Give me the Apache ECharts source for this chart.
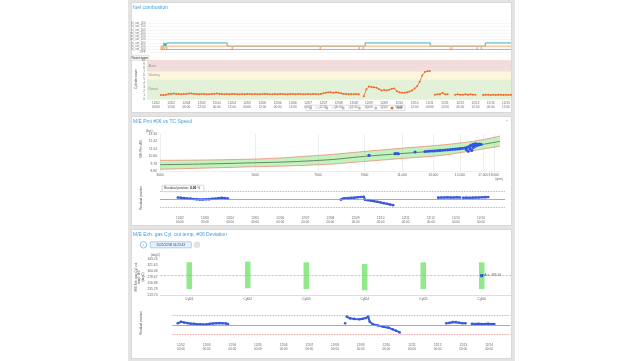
<!DOCTYPE html>
<html><head><meta charset="utf-8">
<script src="https://cdn.jsdelivr.net/npm/echarts@6/dist/echarts.min.js"></script>
<style>
html,body{margin:0;padding:0;background:#fff;width:643px;height:361px;overflow:hidden}
.bg{position:absolute;left:128px;top:0;width:387px;height:361px;background:#e4e4e4}
.pn{position:absolute;left:131px;width:381px;background:#fff;box-sizing:border-box;border:1px solid #d9d9d9}
#chart{position:absolute;left:0;top:0;width:643px;height:361px}
</style></head><body>
<div class="bg"></div>
<div class="pn" style="top:2px;height:111px"></div>
<div class="pn" style="top:116px;height:110px"></div>
<div class="pn" style="top:229px;height:130px"></div>
<div id="chart"></div>
<script>
// ---------- DATA ----------
// Panel 1 : fuel combustion timeline (hours since 12/02 00:00)
const rowLabels = ['OFF','lo_set_100','lo_set_150','lo_set_200','mi_set_100','mi_set_150','mi_set_200','hi_set_100','hi_set_150','hi_set_200'];
const tealSteps = [[4,2],[6.3,2],[6.3,3],[7.0,3],[7.0,2],[7.4,2],[7.4,3],[7.9,3],[7.9,2],[8.7,2],[8.7,3],[56.2,3],[56.2,2],[165,2],[165,3],[216.3,3],[216.3,2],[259.7,2],[259.7,3],[280,3]];
const orangeSteps = [[4,2],[4,1],[4.6,1],[4.6,2],[5.2,2],[5.2,1],[5.8,1],[5.8,2],[6.6,2],[6.6,1],[7.6,1],[7.6,2],[8.7,2],[8.7,1],[8.7,2],[60,2],[60,1],[61.5,1],[61.5,2],[129.5,2],[129.5,1],[130.3,1],[130.3,2],[160.3,2],[160.3,1],[160.3,2],[163.4,2],[163.4,1],[164.2,1],[164.2,2],[232,2],[232,1],[233.7,1],[233.7,2],[253.4,2],[253.4,1],[253.4,2],[256.6,2],[256.6,1],[256.6,2],[280,2]];
const blueSteps = [[4,1],[280,1]];

// Panel 1 : cylinder index (#06), one value every 2 h starting at hour 4
const cylStartHour = 4, cylStepHour = 2;
const cyl06 = [
  1.0,1.0,1.1,
  1.3,1.3,1.4,1.3,1.3,1.2,1.3,1.3,1.4,1.4,1.3,1.3,1.2,1.3,1.3,1.2,1.2,1.3,1.3,1.4,1.3,1.3,1.2,1.3,
  1.2,1.3,1.3,1.2,1.2,1.3,1.2,1.3,1.3,1.2,
  1.3,1.2,1.2,1.3,1.3,1.3,1.2,1.2,1.3,1.2,
  1.3,1.3,1.2,1.2,1.3,1.3,1.2,1.3,1.3,1.2,
  1.2,1.3,1.2,1.3,1.3,1.2,1.3,
  1.5,1.6,1.7,1.7,1.6,1.7,1.6,1.5,
  1.3,1.3,1.2,1.3,1.2,1.3,1.2,
  null,
  0.7,2.5,3.2,
  3.1,3.0,2.9,2.5,2.2,2.3,2.2,2.4,2.6,2.7,2.0,1.7,1.6,1.6,1.7,1.9,2.2,2.7,3.3,4.4,6.0,6.9,7.1,7.2,
  null,
  1.1,1.2,1.2,1.6,1.2,1.2,
  null,null,
  1.1,1.2,1.1,1.1,1.2,1.1,1.2,1.1,1.1,
  null,null,
  1.0,1.1,1.1,1.0,1.1,1.0,1.1,1.1,1.0,1.1,1.0,1.1
];
const bandNames = ['Alarm','Warning','Normal'];
const bandFrom = [7,5,0];
const bandTo = [10,7,5];
const cylLegend = ['#01','#02','#03','#04','#05','#06'];
const p1TickHours = [0,12,24,36,48,60,72,84,96,108,120,132,144,156,168,180,192,204,216,228,240,252,264,276];
const p1TickLabels = ['12/02\n00:00','12/02\n12:00','12/03\n00:00','12/03\n12:00','12/04\n00:00','12/04\n12:00','12/05\n00:00','12/05\n12:00','12/06\n00:00','12/06\n12:00','12/07\n00:00','12/07\n12:00','12/08\n00:00','12/08\n12:00','12/09\n00:00','12/09\n12:00','12/10\n00:00','12/10\n12:00','12/11\n00:00','12/11\n12:00','12/12\n00:00','12/12\n12:00','12/13\n00:00','12/13\n12:00'];

// Panel 2 : Pmi vs TC speed
const pmiTicks = [3000,5000,7000,9000,11000,13000,15000,17000,18000];
const pmiYTicks = [8.90,9.78,10.66,11.54,12.42,13.30];
const pmiRpm    = [3000,4730,7080,9060,11120,13340,15010,16810,18600];
const pmiUpper  = [10.17,10.29,10.77,11.24,11.63,11.96,12.23,12.59,13.06];
const pmiCenter = [9.65,9.85,10.17,10.65,11.00,11.31,11.63,12.03,12.43];
const pmiLower  = [9.10,9.38,9.65,10.05,10.41,10.72,11.08,11.48,11.84];
const pmiPoints = [[9211,10.77],[10591,10.96],[10705,10.98],[10780,10.95],[11792,11.16],
  [12441,11.22],[12610,11.25],[12779,11.27],[12950,11.28],[13127,11.30],[13305,11.32],[13485,11.35],[13667,11.37],[13852,11.40],[14040,11.42],
  [14230,11.45],[14420,11.48],[14617,11.50],[14815,11.53],[15015,11.56],[15218,11.60],[15424,11.63],[15530,11.45],[15600,11.70],[15680,11.25],
  [15760,11.80],[15844,11.55],[15900,11.95],[15980,11.35],[16060,12.05],[16120,11.70],[16200,12.10],[16276,11.85],[16350,12.12],[16430,11.95],
  [16500,12.08],[16580,12.00],[16650,12.10],[16720,12.05],[16810,12.08]];

// Residual charts (hours since 12/02 00:00, %)
const resTickHours = [0,24,48,72,96,120,144,168,192,216,240,264,288];
const resTickLabels = ['12/02\n00:00','12/03\n00:00','12/04\n00:00','12/05\n00:00','12/06\n00:00','12/07\n00:00','12/08\n00:00','12/09\n00:00','12/10\n00:00','12/11\n00:00','12/12\n00:00','12/13\n00:00','12/14\n00:00'];
const resLimits = [5,-5];
const res2 = [[-2,1.0],[1,0.8],[4,0.6],[7,0.4],[10,0.3],[13,0.1],[16,0.0],[19,-0.2],[22,-0.2],[25,-0.1],[28,0.0],[31,0.2],[34,0.3],[37,0.6],[40,0.8],[43,0.6],[46,0.4],[48,null],
  [154,-0.3],[156,0.3],[158,0.5],[161,0.6],[164,0.8],[167,0.9],[170,1.1],[173,1.3],[176,1.4],[177,-0.4],[180,-0.6],[183,-0.9],[186,-1.3],[189,-1.6],[192,-2.0],[195,-2.4],[198,-2.8],[201,-3.2],[204,-3.6],[206,null],
  [247,0.9],[250,1.0],[253,1.0],[256,1.1],[259,1.0],[262,1.0],[265,1.1],[268,1.0],[270,null],
  [271,0.8],[274,0.9],[277,0.8],[280,0.9],[283,1.0],[286,1.0],[289,1.1],[292,1.2],[295,1.3]];
const res3 = [[-3,0.9],[0,1.7],[3,1.3],[6,1.0],[9,0.7],[12,0.6],[15,0.4],[18,0.4],[21,0.3],[24,0.4],[27,0.6],[30,0.8],[33,0.9],[36,1.0],[39,0.9],[42,0.8],[44,0.5],[46,null],
  [153.5,0.9],[154,null],
  [155,4.4],[158,3.5],[162,3.2],[167,3.0],[170,3.3],[173,3.7],[175,4.4],[176.5,1.7],[179.5,0.4],[184,-0.2],[189,-0.9],[194,-1.4],[198,-2.3],[201,-3.0],[204.5,-3.9],[206,null],
  [248,0.9],[251,1.1],[254,1.5],[257,1.5],[260,1.2],[263,0.9],[266,0.9],[269,null],
  [272,0.6],[275,0.5],[278,0.6],[281,0.5],[284,0.5],[287,0.6],[290,0.5],[293,0.5]];

// Panel 3 : exhaust gas temperature
const cylCats = ['Cyl01','Cyl02','Cyl03','Cyl04','Cyl05','Cyl06'];
const exhLow  = [236.0,238.5,236.0,231.4,236.0,236.0];
const exhHigh = [330.5,332.6,330.5,324.5,330.5,330.5];
const exhAct = 283.43;
const exhYTicks = [213.70,235.29,256.88,278.47,300.06,321.65,343.24];

// ---------- STYLE ----------
const FONT = "'Liberation Sans', 'DejaVu Sans', Arial, sans-serif";
const LBL = {fontSize:3.3, color:'#666', fontFamily:FONT};
const TITLE = '#3c9fe6';

function text(x,y,t,size,color,extra){
  return {type:'text', x:x, y:y, silent:true,
    style:Object.assign({text:t, fontSize:size, fontFamily:FONT, fill:color, align:'left', verticalAlign:'middle'}, extra||{})};
}
function vtext(x,y,t,size){
  return {type:'text', x:x, y:y, rotation:Math.PI/2, silent:true,
    style:{text:t, fontSize:size, fontFamily:FONT, fill:'#555', align:'center', verticalAlign:'middle', lineHeight:size*1.15}};
}
const p1Fmt = v => { const i = p1TickHours.indexOf(v); return i >= 0 ? p1TickLabels[i] : ''; };
const resFmt = v => { const i = resTickHours.indexOf(v); return i >= 0 ? resTickLabels[i] : ''; };
const thousands = v => v >= 10000 ? String(v).replace(/\B(?=(\d{3})+(?!\d))/g, ',') : String(v);

const resMarks = {
  silent:true, symbol:['none','none'], label:{show:false},
  data:[
    {yAxis:resLimits[0], lineStyle:{color:'#f07c7c', type:'dotted', width:0.8}},
    {yAxis:resLimits[1], lineStyle:{color:'#f07c7c', type:'dotted', width:0.8}},
    {yAxis:0, lineStyle:{color:'#999', type:'solid', width:0.8}}
  ]
};

const chart = echarts.init(document.getElementById('chart'), null, {renderer:'canvas'});
const option = {
  animation:false,
  backgroundColor:'transparent',
  textStyle:{fontFamily:FONT},
  legend:{
    data:cylLegend, left:306, top:105.2, orient:'horizontal',
    icon:'circle', itemWidth:3, itemHeight:3, itemGap:5,
    borderColor:'#bbb', borderWidth:0.5, padding:[1.2,3],
    textStyle:{fontSize:3.2, color:'#333', fontFamily:FONT, padding:[0,0,0,-2]},
    inactiveColor:'#bbb',
    selected:{'#01':false,'#02':false,'#03':false,'#04':false,'#05':false,'#06':true}
  },
  grid:[
    {left:147, top:23.3, width:364, height:29.4},
    {left:147, top:60, width:364, height:39},
    {left:160, top:134, width:340, height:37},
    {left:160, top:185, width:345, height:28.3},
    {left:160, top:258.7, width:351, height:36.6},
    {left:172.4, top:310, width:338, height:30}
  ],
  xAxis:[
    {gridIndex:0, type:'value', min:-7, max:280, show:false},
    {gridIndex:1, type:'value', min:-7, max:280,
      axisLine:{show:true, lineStyle:{color:'#e2e2e2', width:0.5}}, axisTick:{show:false}, splitLine:{show:false},
      axisLabel:{customValues:p1TickHours, formatter:p1Fmt, margin:2, lineHeight:3.8, fontSize:3.1, color:'#666', fontFamily:FONT}},
    {gridIndex:2, type:'log', logBase:10, min:3000, max:18600,
      axisLine:{show:true, lineStyle:{color:'#ddd', width:0.5}}, axisTick:{show:false}, splitLine:{show:false},
      axisLabel:Object.assign({customValues:pmiTicks, formatter:thousands, margin:3}, LBL)},
    {gridIndex:3, type:'value', min:-19, max:311,
      axisLine:{show:true, lineStyle:{color:'#e2e2e2', width:0.5}}, axisTick:{show:false}, splitLine:{show:false},
      axisLabel:{customValues:resTickHours, formatter:resFmt, margin:3, lineHeight:3.8, fontSize:3.1, color:'#666', fontFamily:FONT}},
    {gridIndex:4, type:'category', data:cylCats,
      axisLine:{show:true, lineStyle:{color:'#ccd6eb', width:0.8}}, axisTick:{show:false},
      axisLabel:Object.assign({margin:2.5}, LBL)},
    {gridIndex:5, type:'value', min:-8, max:308,
      axisLine:{show:true, lineStyle:{color:'#e2e2e2', width:0.5}}, axisTick:{show:false}, splitLine:{show:false},
      axisLabel:{customValues:resTickHours, formatter:resFmt, margin:3, lineHeight:3.8, fontSize:3.1, color:'#666', fontFamily:FONT}}
  ],
  yAxis:[
    {gridIndex:0, type:'value', min:0, max:9, interval:1,
      axisLine:{show:false}, axisTick:{show:false},
      splitLine:{show:true, lineStyle:{color:'#ececec', width:0.5}},
      axisLabel:{formatter:v => rowLabels[v] || '', fontSize:2.9, color:'#777', margin:1.5, fontFamily:FONT}},
    {gridIndex:1, type:'value', min:0, max:10, interval:1,
      axisLine:{show:false}, axisTick:{show:false}, splitLine:{show:false},
      axisLabel:{margin:2, fontSize:3, color:'#666', fontFamily:FONT}},
    {gridIndex:2, type:'value', min:8.9, max:13.3,
      axisLine:{show:false}, axisTick:{show:false}, splitLine:{show:false},
      axisLabel:Object.assign({customValues:pmiYTicks, formatter:v => v.toFixed(2), margin:3}, LBL)},
    {gridIndex:3, type:'value', min:-8.5, max:8.5,
      axisLine:{show:false}, axisTick:{show:false}, splitLine:{show:false}, axisLabel:{show:false}},
    {gridIndex:4, type:'value', min:213.70, max:343.24,
      axisLine:{show:false}, axisTick:{show:false}, splitLine:{show:false},
      axisLabel:Object.assign({customValues:exhYTicks, formatter:v => v.toFixed(2), margin:2.5}, LBL)},
    {gridIndex:5, type:'value', min:-7.9, max:7.9,
      axisLine:{show:false}, axisTick:{show:false}, splitLine:{show:false}, axisLabel:{show:false}}
  ],
  series:[
    // panel 1 timeline
    {type:'line', xAxisIndex:0, yAxisIndex:0, data:tealSteps, symbol:'none', lineStyle:{color:'#4fb0b3', width:1}, silent:true},
    {type:'line', xAxisIndex:0, yAxisIndex:0, data:orangeSteps, symbol:'none', lineStyle:{color:'#f8b079', width:1}, silent:true},
    {type:'line', xAxisIndex:0, yAxisIndex:0, data:blueSteps, symbol:'none', lineStyle:{color:'#8b95e8', width:0.8}, silent:true},
    // panel 1 cylinder chart
    ...cylLegend.slice(0,5).map(n => ({name:n, type:'line', xAxisIndex:1, yAxisIndex:1, data:[], color:'#999'})),
    {name:'#06', type:'line', xAxisIndex:1, yAxisIndex:1, color:'#f2692a',
      data:cyl06.map((v,i) => [cylStartHour + i*cylStepHour, v]),
      symbol:'circle', symbolSize:2, showSymbol:true, connectNulls:false,
      lineStyle:{width:0.8, color:'#f2692a'}, itemStyle:{color:'#f2692a'},
      markArea:{silent:true,
        label:{position:'insideLeft', fontSize:3, color:'#999', fontFamily:FONT, distance:1.5},
        data:bandNames.map((n,i) => [
          {name:n, yAxis:bandFrom[i], itemStyle:{color:['#f3dcdc','#fcf6dd','#e3f1d9'][i]}},
          {yAxis:bandTo[i]}
        ])}
    },
    // panel 2 Pmi band : upper filled green down to the axis, lower filled white to cut it out
    {type:'line', xAxisIndex:2, yAxisIndex:2, smooth:true, symbol:'none',
      data:pmiRpm.map((x,i) => [x, pmiUpper[i]]),
      lineStyle:{color:'#f08a7a', width:0.8}, areaStyle:{color:'#c2f2bd', opacity:1, origin:'start'}, silent:true},
    {type:'line', xAxisIndex:2, yAxisIndex:2, smooth:true, symbol:'none',
      data:pmiRpm.map((x,i) => [x, pmiLower[i]]),
      lineStyle:{color:'#f08a7a', width:0.8}, areaStyle:{color:'#ffffff', opacity:1, origin:'start'}, silent:true},
    {type:'line', xAxisIndex:2, yAxisIndex:2, smooth:true, symbol:'none',
      data:pmiRpm.map((x,i) => [x, pmiCenter[i]]),
      lineStyle:{color:'#3f5a44', width:0.7}, silent:true,
      markLine:{silent:true, symbol:['none','none'], label:{show:false},
        lineStyle:{color:'rgba(180,180,180,0.45)', width:0.5, type:'solid'},
        data:pmiTicks.map(v => ({xAxis:v}))}},
    {type:'line', xAxisIndex:2, yAxisIndex:2, data:pmiPoints, symbol:'circle', symbolSize:3.2, showSymbol:true,
      lineStyle:{width:0, opacity:0}, itemStyle:{color:'#3356e2'}, z:6, silent:true},
    // panel 2 residual
    {type:'line', xAxisIndex:3, yAxisIndex:3, data:res2, connectNulls:false,
      symbol:'circle', symbolSize:2.6, showSymbol:true,
      lineStyle:{color:'#3a5bdc', width:2}, itemStyle:{color:'#3a5bdc'}, silent:true,
      markLine:resMarks},
    // panel 3 bars
    {type:'bar', xAxisIndex:4, yAxisIndex:4, stack:'exh', data:exhLow, barWidth:5.5,
      itemStyle:{color:'rgba(0,0,0,0)'}, silent:true},
    {type:'bar', xAxisIndex:4, yAxisIndex:4, stack:'exh', barWidth:5.5,
      data:exhHigh.map((h,i) => +(h - exhLow[i]).toFixed(2)),
      itemStyle:{color:'#90ea8c'}, silent:true},
    {type:'scatter', xAxisIndex:4, yAxisIndex:4, data:[[cylCats[5], exhAct]], symbol:'rect', symbolSize:3.2,
      itemStyle:{color:'#1c3ad6'}, z:5, silent:true,
      label:{show:true, position:'right', distance:1, fontSize:3.1, color:'#333', fontFamily:FONT,
        formatter:p => 'Act.: ' + exhAct.toFixed(2)},
      markLine:{silent:true, symbol:['none','none'], label:{show:false},
        lineStyle:{color:'#aaa', type:'dashed', width:0.6}, data:[{yAxis:exhAct}]}},
    // panel 3 residual
    {type:'line', xAxisIndex:5, yAxisIndex:5, data:res3, connectNulls:false,
      symbol:'circle', symbolSize:2.6, showSymbol:true,
      lineStyle:{color:'#3a5bdc', width:2}, itemStyle:{color:'#3a5bdc'}, silent:true,
      markLine:resMarks}
  ],
  graphic:[
    text(133, 7.5, 'fuel combustion', 5, TITLE),
    {type:'rect', shape:{x:130.5, y:55.3, width:18.5, height:5, r:1}, style:{fill:'#f5f5f5', stroke:'#c8c8c8', lineWidth:0.5}, silent:true},
    text(139.7, 57.9, 'Reset zoom', 3.1, '#333', {align:'center'}),
    vtext(136.5, 79, 'Cylinder cover', 3.1),

    text(133, 121.5, 'M/E Pmi #06 vs TC Speed', 5, TITLE),
    text(507, 120.5, '×', 4, '#aaa', {align:'center'}),
    text(146, 131, '(bar)', 3.1, '#666', {align:'left'}),
    text(499, 179.3, '(rpm)', 3.1, '#666', {align:'center'}),
    vtext(141, 149, 'M/E Pmi #06', 3.1),
    vtext(141, 198, 'Residual position', 3.1),
    {type:'rect', shape:{x:162, y:185.2, width:42, height:6.5, r:1.5}, style:{fill:'#fff', stroke:'#aaa', lineWidth:0.5}, z:100, silent:true},
    {type:'text', x:164, y:188.5, z:101, silent:true, style:{text:'{a|Residual position: }{b|0.00} %', fontSize:3.2, fontFamily:FONT, fill:'#333', verticalAlign:'middle',
      rich:{a:{fontSize:3.2, fill:'#333', fontFamily:FONT}, b:{fontSize:3.2, fontWeight:'bold', fill:'#000', fontFamily:FONT}}}},

    text(133, 234.3, 'M/E Exh. gas Cyl. out temp. #06 Deviation', 5, TITLE),
    {type:'circle', shape:{cx:143.5, cy:244.8, r:3.2}, style:{fill:'#fff', stroke:'#58a9ea', lineWidth:0.7}, silent:true},
    text(143.5, 244.9, '+', 4, '#58a9ea', {align:'center'}),
    {type:'rect', shape:{x:150.3, y:241.8, width:41, height:6, r:0.8}, style:{fill:'#e7f1fc', stroke:'#7cb4ee', lineWidth:0.6}, silent:true},
    text(170.8, 244.9, '2025/12/08 04:23:43', 3.1, '#345', {align:'center'}),
    {type:'circle', shape:{cx:197, cy:244.8, r:3}, style:{fill:'#e4e4e4', stroke:'#d0d0d0', lineWidth:0.4}, silent:true},
    text(155.5, 255.5, '(degC)', 3.1, '#666', {align:'center'}),
    vtext(139.5, 277, 'M/E Exh. gas Cyl. out\ntemp. #06\n(degC)', 3.0),
    vtext(141, 323, 'Residual position', 3.1)
  ]
};
chart.setOption(option);
</script>
</body></html>
